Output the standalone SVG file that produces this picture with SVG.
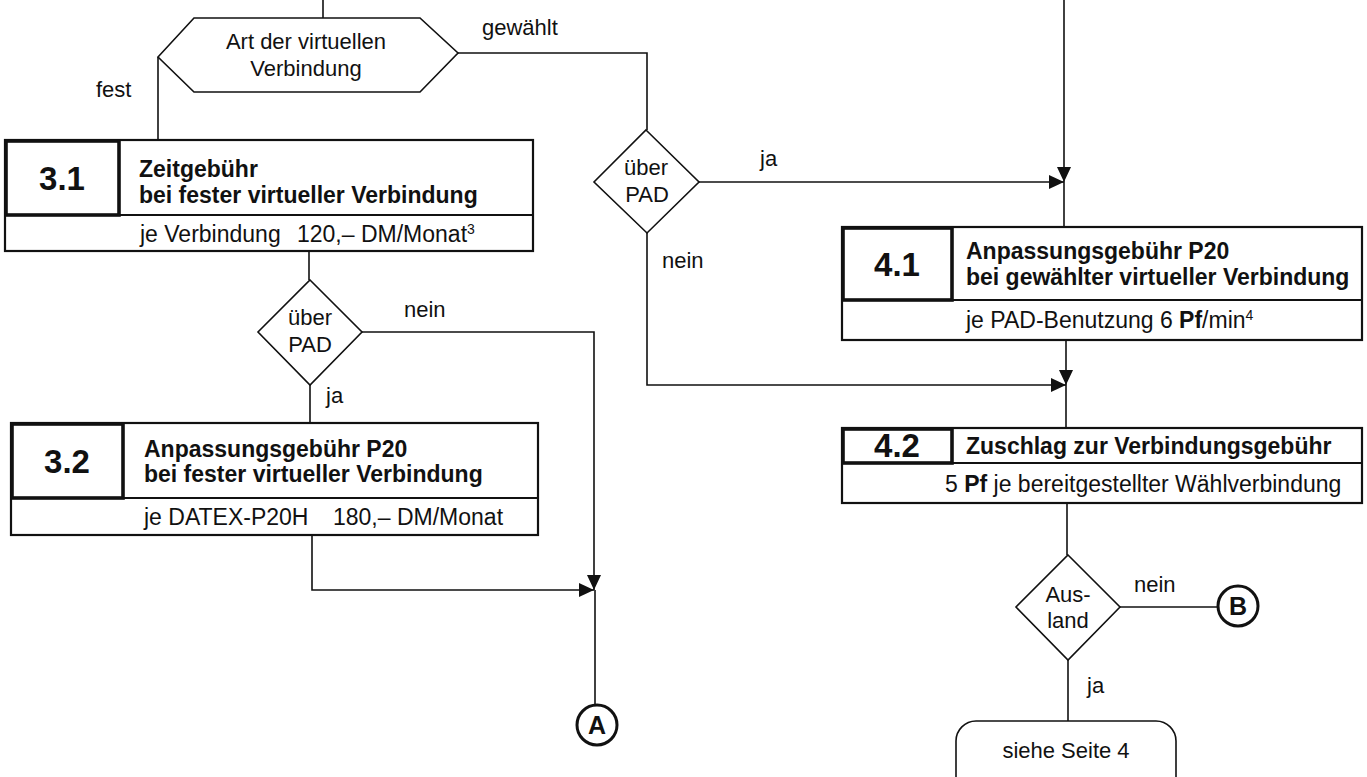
<svg xmlns="http://www.w3.org/2000/svg" width="1367" height="777" viewBox="0 0 1367 777">
<style>
  text { font-family: "Liberation Sans", Arial, sans-serif; fill: #111; }
  .lbl { font-size: 22px; }
  .row { font-size: 23px; }
  .hd { font-size: 23px; font-weight: bold; }
  .num { font-size: 33px; font-weight: bold; text-anchor: middle; }
  .ctr { text-anchor: middle; }
  .shape { fill: #fff; stroke: #111; stroke-width: 1.6; }
  .box { fill: #fff; stroke: #111; stroke-width: 2.2; }
  .cell { fill: none; stroke: #111; stroke-width: 3.6; }
  .div { stroke: #111; stroke-width: 2; }
  .conn { fill: none; stroke: #111; stroke-width: 1.6; }
  .conn-end { marker-end: url(#arrow); }
  .circ { fill: #fff; stroke: #111; stroke-width: 3; }
  .circtxt { font-size: 25px; font-weight: bold; text-anchor: middle; }
</style>
<defs>
  <marker id="arrow" markerUnits="userSpaceOnUse" markerWidth="16" markerHeight="14" refX="15" refY="7" orient="auto">
    <path d="M0,0 L15,7 L0,14 Z" fill="#111"/>
  </marker>
</defs>
<rect width="1367" height="777" fill="#fff"/>

<g id="connectors">
  <path class="conn" d="M323,0 V18"/>
  <path class="conn" d="M158,57 V140"/>
  <path class="conn" d="M458,53 H647 V130"/>
  <path class="conn conn-end" d="M1064,0 V182"/>
  <path class="conn conn-end" d="M699,182 H1064"/>
  <path class="conn" d="M1064,182 V227"/>
  <path class="conn conn-end" d="M647,233 V385 H1066"/>
  <path class="conn conn-end" d="M1066,340 V385"/>
  <path class="conn" d="M1066,385 V428"/>
  <path class="conn" d="M1067,503 V555"/>
  <path class="conn" d="M1120,607 H1217"/>
  <path class="conn" d="M1068,660 V721"/>
  <path class="conn" d="M309,251 V280"/>
  <path class="conn conn-end" d="M362,332 H594 V590"/>
  <path class="conn" d="M310,385 V423"/>
  <path class="conn conn-end" d="M312,535 V590 H594"/>
  <path class="conn" d="M595,590 V705"/>
  <text class="lbl" x="482" y="35">gewählt</text>
  <text class="lbl" x="96" y="97">fest</text>
  <text class="lbl" x="760" y="166">ja</text>
  <text class="lbl" x="662" y="268">nein</text>
  <text class="lbl" x="404" y="317">nein</text>
  <text class="lbl" x="326" y="403">ja</text>
  <text class="lbl" x="1134" y="592">nein</text>
  <text class="lbl" x="1087" y="693">ja</text>
</g>

<g id="hex-art">
  <polygon class="shape" points="158,57 194,18 420,18 458,53 420,92 194,92"/>
  <text class="lbl ctr" x="306" y="49">Art der virtuellen</text>
  <text class="lbl ctr" x="306" y="76">Verbindung</text>
</g>

<g id="dec-pad-top">
  <polygon class="shape" points="646,130 699,182 647,233 594,182"/>
  <text class="lbl ctr" x="646" y="175">über</text>
  <text class="lbl ctr" x="647" y="202">PAD</text>
</g>

<g id="box-3-1">
  <rect class="box" x="5" y="140" width="528" height="111"/>
  <line class="div" x1="5" y1="215" x2="533" y2="215"/>
  <rect class="cell" x="6" y="141" width="113" height="74"/>
  <text class="num" x="62" y="190">3.1</text>
  <text class="hd" x="139" y="177">Zeitgebühr</text>
  <text class="hd" x="139" y="203">bei fester virtueller Verbindung</text>
  <text class="row" x="140" y="242">je Verbindung</text>
  <text class="row" x="297" y="242">120,– DM/Monat<tspan dy="-8" font-size="14">3</tspan></text>
</g>

<g id="dec-pad-left">
  <polygon class="shape" points="310,280 362,332 310,385 258,332"/>
  <text class="lbl ctr" x="310" y="325">über</text>
  <text class="lbl ctr" x="310" y="352">PAD</text>
</g>

<g id="box-3-2">
  <rect class="box" x="11" y="423" width="527" height="112"/>
  <line class="div" x1="11" y1="498" x2="538" y2="498"/>
  <rect class="cell" x="12" y="424" width="111" height="74"/>
  <text class="num" x="67" y="473">3.2</text>
  <text class="hd" x="144" y="457">Anpassungsgebühr P20</text>
  <text class="hd" x="144" y="482">bei fester virtueller Verbindung</text>
  <text class="row" x="144" y="525">je DATEX-P20H</text>
  <text class="row" x="333" y="525">180,– DM/Monat</text>
</g>

<g id="conn-A">
  <circle class="circ" cx="597" cy="725" r="20"/>
  <text class="circtxt" x="597" y="734">A</text>
</g>

<g id="box-4-1">
  <rect class="box" x="842" y="227" width="520" height="113"/>
  <line class="div" x1="842" y1="300" x2="1362" y2="300"/>
  <rect class="cell" x="843" y="228" width="109" height="72"/>
  <text class="num" x="897" y="276">4.1</text>
  <text class="hd" x="966" y="259">Anpassungsgebühr P20</text>
  <text class="hd" x="966" y="285">bei gewählter virtueller Verbindung</text>
  <text class="row" x="966" y="328">je PAD-Benutzung 6 <tspan font-weight="bold">Pf</tspan>/min<tspan dy="-8" font-size="14">4</tspan></text>
</g>

<g id="box-4-2">
  <rect class="box" x="842" y="428" width="520" height="75"/>
  <line class="div" x1="842" y1="463" x2="1362" y2="463"/>
  <rect class="cell" x="843" y="429" width="109" height="34"/>
  <text class="num" x="897" y="457">4.2</text>
  <text class="hd" x="966" y="454">Zuschlag zur Verbindungsgebühr</text>
  <text class="row" x="945" y="492">5 <tspan font-weight="bold">Pf</tspan> je bereitgestellter Wählverbindung</text>
</g>

<g id="dec-ausland">
  <polygon class="shape" points="1068,555 1120,607 1068,660 1016,607"/>
  <text class="lbl ctr" x="1068" y="602">Aus-</text>
  <text class="lbl ctr" x="1068" y="628">land</text>
</g>

<g id="conn-B">
  <circle class="circ" cx="1238" cy="606" r="20"/>
  <text class="circtxt" x="1238" y="615">B</text>
</g>

<g id="end-seite4">
  <rect class="shape" x="956" y="721" width="220" height="90" rx="20" ry="20"/>
  <text class="lbl ctr" x="1066" y="758">siehe Seite 4</text>
</g>
</svg>
